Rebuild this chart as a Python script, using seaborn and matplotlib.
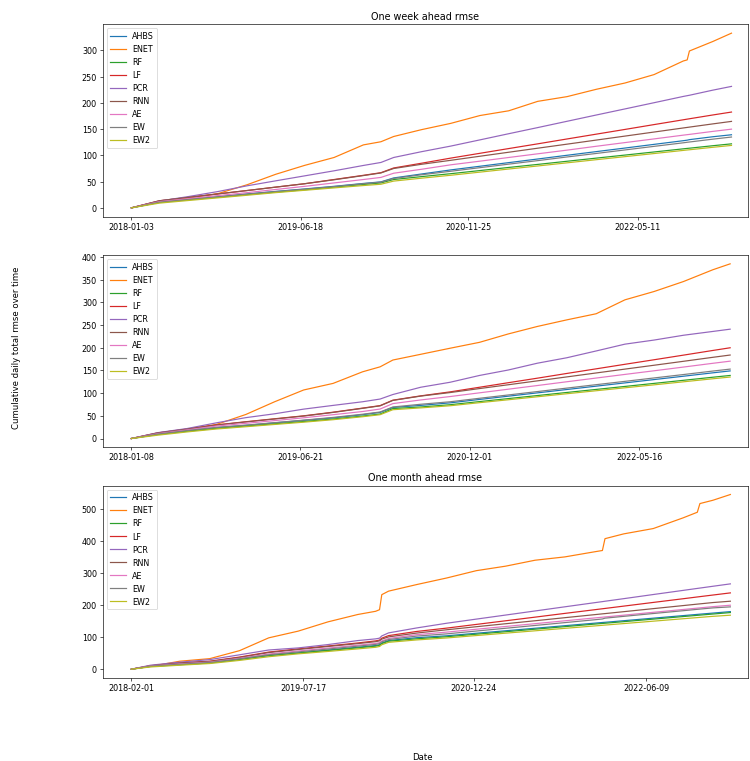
import pandas as pd
import matplotlib
matplotlib.use("Agg")
import matplotlib.pyplot as plt
import matplotlib.dates as mdates
import seaborn as sns

# model names, in plotting order (tab10 colours)
models = ["AHBS", "ENET", "RF", "LF", "PCR", "RNN", "AE", "EW", "EW2"]

# ---- one week ahead ----
week_dates = ["2018-01-03", "2018-04-01", "2018-07-01", "2018-10-01", "2019-01-01",
              "2019-04-01", "2019-07-01", "2019-10-01", "2020-01-01", "2020-02-25",
              "2020-04-05", "2020-07-01", "2020-10-01", "2021-01-01", "2021-04-01",
              "2021-07-01", "2021-10-01", "2022-01-01", "2022-04-01", "2022-07-01",
              "2022-10-01", "2022-10-13", "2022-10-20", "2023-01-01", "2023-03-01"]
week_ticks = ["2018-01-03", "2019-06-18", "2020-11-25", "2022-05-11"]
w_ahbs = [0, 10.8, 16, 21, 26.5, 31.3, 36, 41, 46.5, 49.5, 57, 64.5, 72.3, 79.3, 86.2,
          93.1, 100.2, 107.2, 114, 121, 128, 129, 130, 135.5, 139.3]
w_enet = [0, 12, 18.5, 27, 44, 64, 81, 96, 120, 126, 136, 149, 161, 176, 185,
          203, 212, 226, 238, 254, 280, 282, 299, 317, 333]
w_rf = [0, 10.5, 15.5, 20.3, 25.3, 30, 34.5, 39.5, 44.5, 47.5, 54, 59.5, 65.1, 71.1, 77,
        82.8, 88.8, 94.8, 100.6, 106.5, 112.5, 113.3, 113.7, 118.4, 122]
w_lf = [0, 13.5, 20, 26.5, 33, 39.5, 46, 54, 62, 67, 76, 85, 94.8, 104, 113,
        122, 131.3, 140.5, 149.5, 158.7, 167.9, 169.1, 169.8, 177, 182.6]
w_pcr = [0, 13, 21.5, 31, 42, 51.5, 61, 70.6, 80.8, 86.5, 96, 107, 117.7, 129.6, 141.3,
         153, 165, 177, 188.6, 200.4, 212.4, 213.8, 214.6, 224.3, 231.5]
w_rnn = [0, 13.5, 20, 26.5, 33, 39.5, 46, 53.5, 61.5, 66.5, 75, 83, 90.6, 98.4, 106,
         113.7, 121.4, 129.2, 136.8, 144.5, 152.3, 153.3, 153.9, 160, 164.8]
w_ae = [0, 11.8, 17.5, 23.3, 29, 35, 41, 47.5, 54, 58, 66, 73.5, 82, 89, 96,
        103, 110, 117.4, 124.4, 131.4, 138.6, 139.5, 140, 145.7, 150]
w_ew = [0, 10.8, 15.8, 20.8, 26, 31, 35.5, 40.5, 46, 49, 56, 63, 69.7, 76.6, 83.3,
        90, 97, 103.7, 110.4, 117.2, 124, 125, 125.5, 130.9, 135]
w_ew2 = [0, 9, 14, 19, 24, 29, 33.5, 38, 42.5, 45, 51, 56.5, 62.1, 68.1, 74,
         79.8, 85.8, 91.8, 97.6, 103.5, 109.5, 110.3, 110.7, 115.4, 119]

# ---- middle panel ----
mid_dates = ["2018-01-08", "2018-04-01", "2018-07-01", "2018-10-01", "2019-01-01",
             "2019-04-01", "2019-07-01", "2019-10-01", "2020-01-01", "2020-02-25",
             "2020-04-05", "2020-07-01", "2020-10-01", "2021-01-01", "2021-04-01",
             "2021-07-01", "2021-10-01", "2022-01-01", "2022-04-01", "2022-07-01",
             "2022-10-01", "2023-01-01", "2023-02-24"]
mid_ticks = ["2018-01-08", "2019-06-21", "2020-12-01", "2022-05-16"]
m_ahbs = [0, 9.6, 17, 24, 29, 34.5, 40, 45.5, 52.5, 57.5, 68.5, 73, 78.6, 86.1, 93.3,
          100.6, 108, 115.4, 122.6, 129.9, 137.3, 144.8, 149]
m_enet = [0, 11, 20.6, 31, 53, 81, 107, 121.5, 147, 158, 173, 185.6, 199, 212, 230.5,
          247, 261.5, 275, 305.7, 324, 346, 372, 385]
m_rf = [0, 9, 16, 22.5, 27.5, 32.5, 37.5, 43, 49.5, 54, 66, 69.5, 74.5, 81.4, 88,
        94.7, 101.5, 108.2, 114.8, 121.5, 128.3, 135.1, 139]
m_lf = [0, 12.5, 21, 30, 37, 43.5, 50, 58, 67, 72.5, 84.5, 94, 102.8, 113, 123,
        133, 143.4, 153.6, 163.6, 173.6, 183.8, 194.1, 200]
m_pcr = [0, 13, 22, 34.6, 46, 54.5, 64.8, 73, 81, 87, 97, 113, 124, 139, 151,
         166, 178, 193, 208, 217, 227.6, 236, 241]
m_rnn = [0, 12.3, 20.6, 29.6, 36.5, 43, 49.5, 57.5, 66.5, 72, 84, 93.5, 101.3, 110.1, 118.5,
         127.1, 135.8, 144.5, 153, 161.5, 170.2, 179, 184]
m_ae = [0, 10.8, 19, 27.5, 33.5, 39.5, 45.7, 52.5, 59.5, 65, 77, 85, 92.5, 100.7, 108.7,
        116.8, 125.1, 133.3, 141.3, 149.3, 157.5, 165.8, 170.5]
m_ew = [0, 9.8, 17.5, 24.5, 29.5, 35, 40.5, 46.5, 53.5, 58.5, 69.5, 75.5, 81, 88.7, 96,
        103.5, 111.1, 118.7, 126, 133.5, 141, 148.7, 153]
m_ew2 = [0, 7.4, 14.5, 21, 26, 31, 36, 41.5, 48, 52.5, 63.5, 67.5, 72.2, 79, 85.4,
         92, 98.7, 105.3, 111.8, 118.3, 125, 131.7, 135.5]

# ---- one month ahead ----
month_dates = ["2018-02-01", "2018-04-01", "2018-07-01", "2018-10-01", "2019-01-01",
               "2019-04-01", "2019-07-01", "2019-10-01", "2020-01-01", "2020-02-25",
               "2020-03-08", "2020-03-15", "2020-04-05", "2020-07-01", "2020-10-01",
               "2021-01-01", "2021-04-01", "2021-07-01", "2021-10-01", "2022-01-01",
               "2022-01-25", "2022-02-02", "2022-04-01", "2022-07-01", "2022-10-01",
               "2022-11-14", "2022-11-22", "2023-01-01", "2023-02-24"]
month_ticks = ["2018-02-01", "2019-07-17", "2020-12-24", "2022-06-09"]
b_ahbs = [0, 9, 14.6, 20, 31, 43, 51, 60, 68.8, 74, 76.5, 82, 89.6, 98.5, 104.4,
          112.4, 120.1, 128, 136, 143.9, 146, 146.6, 151.6, 159.5, 167.5, 171.3, 172, 175.4, 180]
b_enet = [0, 9, 25, 33, 58, 98, 119, 148, 171, 181, 186, 233, 244, 264.6, 285,
          308, 322, 340.6, 351, 367, 371, 408, 423, 439.6, 473, 490.6, 517.7, 528, 546]
b_rf = [0, 8.5, 14, 19.5, 30.5, 42.5, 50.5, 58.5, 66.7, 72, 74.5, 80, 87.5, 95, 101.4,
        109.4, 117.1, 125, 133, 140.9, 143, 143.6, 148.6, 156.5, 164.5, 168.3, 169, 172.4, 177]
b_lf = [0, 11, 20, 25, 38, 53.5, 63.5, 72.5, 82, 88.5, 91, 97, 105, 118, 128.4,
        140, 151.3, 162.7, 174.4, 185.9, 188.9, 189.9, 197.2, 208.7, 220.2, 225.8, 226.8, 231.8, 238.5]
b_pcr = [0, 12.5, 22, 30, 45, 60, 66.5, 77, 89.5, 94.8, 97, 104, 113.5, 129, 143.6,
         156.6, 169.2, 182, 195, 207.9, 211.2, 212.4, 220.5, 233.4, 246.3, 252.5, 253.6, 259.2, 266.7]
b_rnn = [0, 10.5, 19, 24, 36.5, 52, 61.5, 71, 80, 86, 88.5, 94, 101, 113, 123.2,
         132.8, 142.1, 151.4, 161, 170.5, 173, 173.8, 179.8, 189.3, 198.8, 203.4, 204.2, 208.3, 212.5]
b_ae = [0, 10, 16.7, 22, 34, 47.5, 57, 66, 75, 80.5, 83, 88.5, 96, 108, 115.9,
        124.9, 133.5, 142.3, 151.3, 160.2, 162.5, 163.3, 168.9, 177.8, 186.6, 190.9, 191.7, 195.5, 200]
b_ew = [0, 9.5, 15.5, 21, 32.5, 45, 54, 63, 72, 77.5, 80, 85.5, 92.7, 103.5, 110.4,
        119.3, 127.9, 136.7, 145.6, 154.5, 157, 159.5, 165.2, 174, 182.8, 187.1, 187.9, 191.6, 194.8]
b_ew2 = [0, 7, 12.5, 17.7, 27.5, 39, 48, 55.5, 63.5, 68.5, 71, 76.5, 84, 91.5, 97.6,
         105.2, 112.6, 120, 127.7, 135.2, 137.2, 137.9, 142.6, 150.1, 157.7, 161.3, 162, 165.2, 168.8]

panels = [
    ("One week ahead rmse", week_dates, week_ticks,
     [w_ahbs, w_enet, w_rf, w_lf, w_pcr, w_rnn, w_ae, w_ew, w_ew2], (-90.4, 1936)),
    ("", mid_dates, mid_ticks,
     [m_ahbs, m_enet, m_rf, m_lf, m_pcr, m_rnn, m_ae, m_ew, m_ew2], (-90.1, 1930)),
    ("One month ahead rmse", month_dates, month_ticks,
     [b_ahbs, b_enet, b_rf, b_lf, b_pcr, b_rnn, b_ae, b_ew, b_ew2], (-88.9, 1904.6)),
]

colors = sns.color_palette("tab10", len(models))

fig, axes = plt.subplots(3, 1, figsize=(750.4 / 58, 761.4 / 58), dpi=58)
fig.subplots_adjust(left=0.1367, right=0.9973, top=0.9674, bottom=0.1091, hspace=0.2005)

for ax, (title, dates, ticks, series, lims) in zip(axes, panels):
    x = pd.to_datetime(dates)
    for name, vals, col in zip(models, series, colors):
        sns.lineplot(x=x, y=vals, label=name, color=col, linewidth=1.5, ax=ax)
    start = x[0]
    ax.set_xlim(start + pd.Timedelta(days=lims[0]), start + pd.Timedelta(days=lims[1]))
    ax.set_xticks(pd.to_datetime(ticks))
    ax.xaxis.set_major_formatter(mdates.DateFormatter("%Y-%m-%d"))
    ax.set_title(title)
    ax.set_xlabel("")
    ax.set_ylabel("")
    ax.legend(loc="upper left")

fig.text(16 / 750, 1 - 348 / 761, "Cumulative daily total rmse over time",
         rotation=90, ha="center", va="center", fontsize=10.5)
fig.text(422 / 750, 1 - 757 / 761, "Date", ha="center", va="center", fontsize=10.5)

fig.savefig("out.png", dpi=58)
plt.close(fig)
